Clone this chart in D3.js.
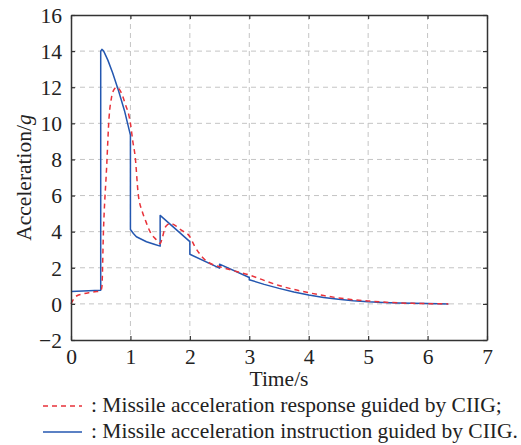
<!DOCTYPE html>
<html>
<head>
<meta charset="utf-8">
<script src="https://cdn.jsdelivr.net/npm/d3@7"></script>
<style>
  html, body { margin: 0; padding: 0; background: #fff; }
  svg { display: block; }
</style>
</head>
<body>
<svg id="chart" width="521" height="445"></svg>
<script>
// Guidance command (solid) and missile acceleration response (dashed), in g
const cmdTime = [0, 0.5, 0.5, 0.52, 0.55, 0.62, 0.7, 0.8, 0.9, 1.0, 1.0, 1.05, 1.1, 1.27, 1.4, 1.5, 1.5, 2.0, 2.0, 2.5, 2.5, 3.0, 3.0, 3.25, 3.5, 3.75, 4.0, 4.25, 4.5, 4.75, 5.0, 5.25, 5.5, 5.75, 6.0, 6.35];
const cmdAccel = [0.68, 0.75, 14.0, 14.1, 14.0, 13.5, 12.8, 11.8, 10.7, 9.35, 4.12, 3.9, 3.72, 3.44, 3.3, 3.2, 4.9, 3.45, 2.75, 1.98, 2.2, 1.46, 1.34, 1.08, 0.86, 0.66, 0.49, 0.36, 0.26, 0.18, 0.12, 0.08, 0.05, 0.03, 0.015, 0.0];

const respTime = [0, 0.05, 0.1, 0.2, 0.3, 0.4, 0.5, 0.52, 0.545, 0.6, 0.64, 0.68, 0.72, 0.77, 0.82, 0.87, 0.92, 0.97, 1.0, 1.04, 1.08, 1.13, 1.2, 1.25, 1.33, 1.44, 1.5, 1.54, 1.58, 1.63, 1.68, 1.75, 1.85, 2.0, 2.08, 2.17, 2.25, 2.34, 2.5, 2.65, 2.8, 3.0, 3.25, 3.5, 3.75, 4.0, 4.25, 4.5, 4.75, 5.0, 5.25, 5.5, 5.75, 6.0, 6.35];
const respAccel = [0, 0.3, 0.45, 0.55, 0.62, 0.67, 0.72, 0.95, 3.9, 7.6, 10.3, 11.4, 11.85, 12.0, 11.85, 11.5, 11.0, 10.5, 10.0, 9.0, 8.15, 6.12, 5.1, 4.65, 4.0, 3.54, 3.35, 3.7, 4.2, 4.4, 4.45, 4.35, 4.1, 3.72, 3.2, 2.75, 2.45, 2.25, 2.06, 1.92, 1.78, 1.6, 1.3, 1.02, 0.8, 0.62, 0.46, 0.33, 0.23, 0.16, 0.1, 0.06, 0.03, 0.015, 0.0];

const xTicks = [0, 1, 2, 3, 4, 5, 6, 7];
const yTicks = [-2, 0, 2, 4, 6, 8, 10, 12, 14, 16];
const xLabel = "Time/s";
const yLabelMain = "Acceleration/";
const yLabelUnit = "g";
const legendItems = [
  { text: ": Missile acceleration response guided by CIIG;", color: "#e8323a", dash: "5,4" },
  { text: ": Missile acceleration instruction guided by CIIG.", color: "#2457b0", dash: null }
];

const FONT = "Liberation Serif";
const FS = "21.5px";
const TXT = "#222";

const svg = d3.select("#chart");
const plot = { left: 71, right: 487, top: 15, bottom: 340 };

const x = d3.scaleLinear().domain([0, 7]).range([plot.left, plot.right]);
const y = d3.scaleLinear().domain([-2, 16]).range([plot.bottom, plot.top]);

// dashed grid
const grid = svg.append("g").attr("stroke", "#c4c4c4").attr("stroke-width", 1).attr("stroke-dasharray", "5,4");
xTicks.slice(1, -1).forEach(t => {
  grid.append("line").attr("x1", x(t)).attr("x2", x(t)).attr("y1", plot.top).attr("y2", plot.bottom);
});
yTicks.slice(1, -1).forEach(t => {
  grid.append("line").attr("x1", plot.left).attr("x2", plot.right).attr("y1", y(t)).attr("y2", y(t));
});

// series
const cmdData = cmdTime.map((t, i) => [t, cmdAccel[i]]);
const respData = respTime.map((t, i) => [t, respAccel[i]]);

const lineCmd = d3.line().x(d => x(d[0])).y(d => y(d[1]));
const lineResp = d3.line().x(d => x(d[0])).y(d => y(d[1])).curve(d3.curveMonotoneX);

svg.append("path").datum(cmdData).attr("d", lineCmd)
  .attr("fill", "none").attr("stroke", legendItems[1].color).attr("stroke-width", 1.5)
  .attr("stroke-linejoin", "round");
svg.append("path").datum(respData).attr("d", lineResp)
  .attr("fill", "none").attr("stroke", legendItems[0].color).attr("stroke-width", 1.5)
  .attr("stroke-dasharray", legendItems[0].dash);

// axes with inward ticks on all sides
const frameColor = "#333";
const axB = svg.append("g").attr("transform", `translate(0,${plot.bottom})`)
  .call(d3.axisBottom(x).tickValues(xTicks).tickSizeInner(-4).tickSizeOuter(0).tickPadding(10).tickFormat(d3.format("d")));
const axT = svg.append("g").attr("transform", `translate(0,${plot.top})`)
  .call(d3.axisTop(x).tickValues(xTicks).tickSizeInner(-4).tickSizeOuter(0).tickFormat(""));
const axL = svg.append("g").attr("transform", `translate(${plot.left},0)`)
  .call(d3.axisLeft(y).tickValues(yTicks).tickSizeInner(-4).tickSizeOuter(0).tickPadding(9)
    .tickFormat(d => d < 0 ? "\u2212" + Math.abs(d) : String(d)));
const axR = svg.append("g").attr("transform", `translate(${plot.right},0)`)
  .call(d3.axisRight(y).tickValues(yTicks).tickSizeInner(-4).tickSizeOuter(0).tickFormat(""));

[axB, axT, axL, axR].forEach(a => {
  a.attr("font-family", FONT).attr("font-size", 21.5);
  a.select(".domain").attr("stroke", frameColor).attr("stroke-width", 1.5);
  a.selectAll(".tick line").attr("stroke", frameColor).attr("stroke-width", 1.2);
  a.selectAll(".tick text").style("font-family", FONT).style("font-size", FS).attr("fill", TXT);
});
axB.selectAll(".tick text").attr("dy", "0.71em").attr("y", 9);
axL.selectAll(".tick text").attr("dy", "0.34em");

// axis titles
svg.append("text").attr("x", (plot.left + plot.right) / 2).attr("y", 386)
  .attr("text-anchor", "middle").style("font-family", FONT).style("font-size", FS).attr("fill", TXT)
  .text(xLabel);

const yl = svg.append("text")
  .attr("transform", `translate(31,${(plot.top + plot.bottom) / 2}) rotate(-90)`)
  .attr("text-anchor", "middle").style("font-family", FONT).style("font-size", FS).attr("fill", TXT);
yl.append("tspan").text(yLabelMain);
yl.append("tspan").style("font-style", "italic").text(yLabelUnit);

// legend below the axes
const legend = svg.append("g");
legendItems.forEach((item, i) => {
  const ly = 406 + i * 26;
  legend.append("line").attr("x1", 43).attr("x2", 82).attr("y1", ly).attr("y2", ly)
    .attr("stroke", item.color).attr("stroke-width", 1.5)
    .attr("stroke-dasharray", item.dash);
  legend.append("text").attr("x", 91).attr("y", ly + 6)
    .style("font-family", FONT).style("font-size", FS).attr("fill", TXT).text(item.text);
});
</script>
</body>
</html>
